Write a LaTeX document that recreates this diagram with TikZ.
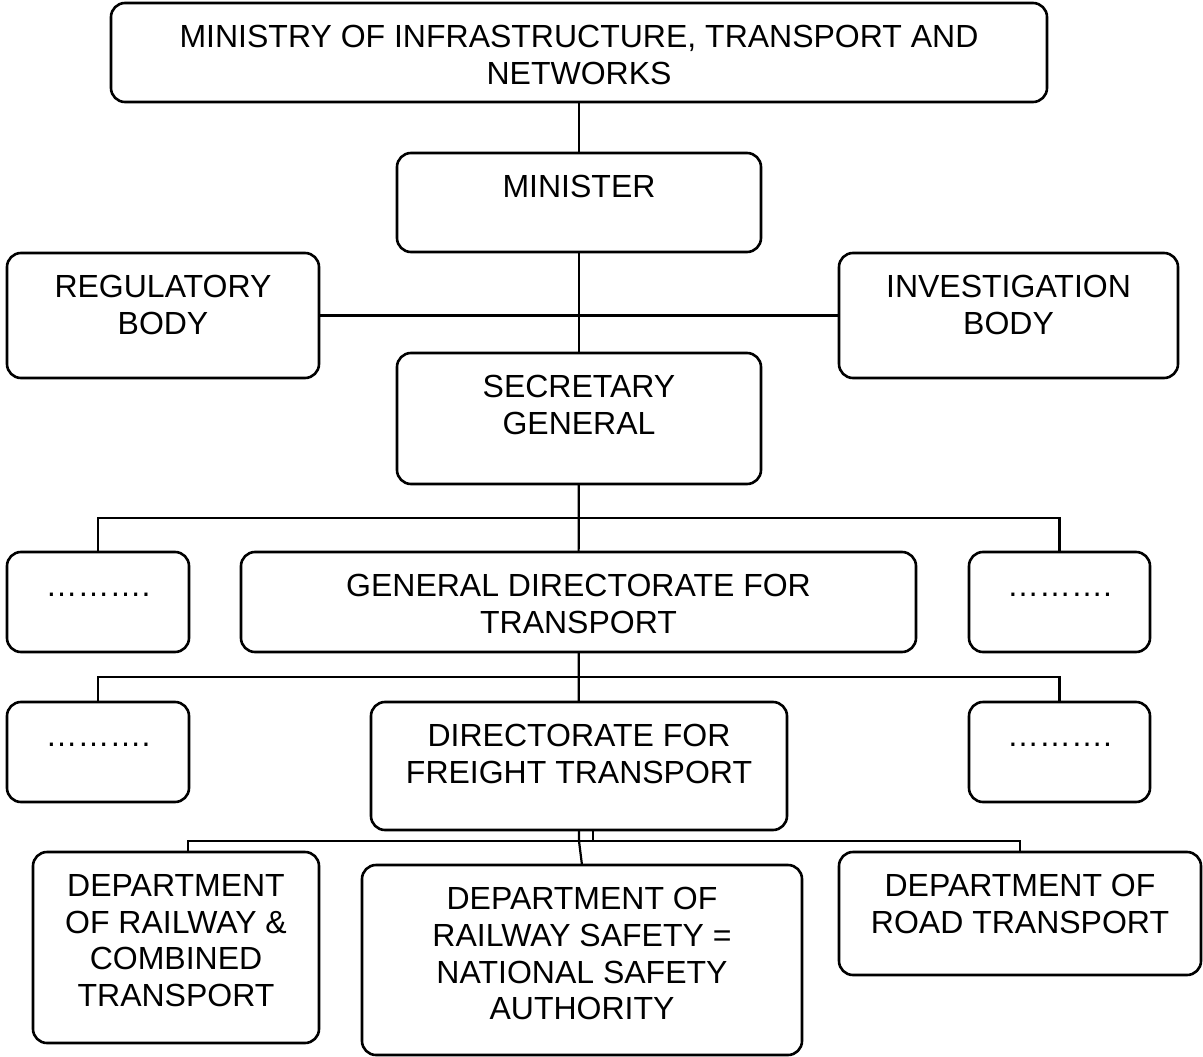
\documentclass[tikz,border=0pt]{standalone}
\usepackage{fontspec}
\setmainfont{Liberation Sans}

\begin{document}
\begin{tikzpicture}[
    x=1pt, y=-1pt,
    orgbox/.style={draw, line width=2.6pt, rounded corners=14pt, anchor=north west, inner sep=0pt, outer sep=0pt},
    orgtext/.style={anchor=north, align=center, inner sep=0pt, yshift=-22pt, font=\fontsize{32}{36.8}\selectfont},
    link/.style={line width=2.2pt}
]
    \useasboundingbox (0,0) rectangle (1203,1057);

    % Ministry and minister
    \node[orgbox, minimum width=936pt, minimum height=99pt, label={[orgtext]north:MINISTRY OF INFRASTRUCTURE, TRANSPORT AND\\NETWORKS}] (ministry) at (111,3) {};
    \node[orgbox, minimum width=364pt, minimum height=99pt, label={[orgtext]north:MINISTER}] (minister) at (397,153) {};

    % Bodies beside the minister
    \node[orgbox, minimum width=312pt, minimum height=125pt, label={[orgtext]north:REGULATORY\\BODY}] (regulatory) at (7,253) {};
    \node[orgbox, minimum width=339pt, minimum height=125pt, label={[orgtext]north:INVESTIGATION\\BODY}] (investigation) at (839,253) {};
    \node[orgbox, minimum width=364pt, minimum height=131pt, label={[orgtext]north:SECRETARY\\GENERAL}] (secretary) at (397,353) {};

    % General directorates
    \node[orgbox, minimum width=182pt, minimum height=100pt, label={[orgtext]north:\vphantom{M}……….}] (dotsA) at (7,552) {};
    \node[orgbox, minimum width=675pt, minimum height=100pt, label={[orgtext]north:GENERAL DIRECTORATE FOR\\TRANSPORT}] (general) at (241,552) {};
    \node[orgbox, minimum width=181pt, minimum height=100pt, label={[orgtext]north:\vphantom{M}……….}] (dotsB) at (969,552) {};

    % Directorates
    \node[orgbox, minimum width=182pt, minimum height=100pt, label={[orgtext]north:\vphantom{M}……….}] (dotsC) at (7,702) {};
    \node[orgbox, minimum width=416pt, minimum height=128pt, label={[orgtext]north:DIRECTORATE FOR\\FREIGHT TRANSPORT}] (freight) at (371,702) {};
    \node[orgbox, minimum width=181pt, minimum height=100pt, label={[orgtext]north:\vphantom{M}……….}] (dotsD) at (969,702) {};

    % Departments
    \node[orgbox, minimum width=286pt, minimum height=191pt, label={[orgtext]north:DEPARTMENT\\OF RAILWAY \&\\COMBINED\\TRANSPORT}] (railcomb) at (33,852) {};
    \node[orgbox, minimum width=440pt, minimum height=190pt, label={[orgtext]north:DEPARTMENT OF\\RAILWAY SAFETY =\\NATIONAL SAFETY\\AUTHORITY}] (safety) at (362,865) {};
    \node[orgbox, minimum width=362pt, minimum height=123pt, label={[orgtext]north:DEPARTMENT OF\\ROAD TRANSPORT}] (road) at (839,852) {};

    % Bus points
    \coordinate (bus1) at (579,518);
    \coordinate (bus2) at (579,677);
    \coordinate (bus3) at (593,841);

    % Links
    \draw[link] (ministry) -- (minister);
    \draw[link] (minister) -- (secretary);
    \draw[link] (regulatory) -- (investigation);
    \draw[link] (secretary) -- (general);
    \draw[link] (dotsA.north) |- (bus1) -| (dotsB.north);
    \draw[link] (general) -- (freight);
    \draw[link] (dotsC.north) |- (bus2) -| (dotsD.north);
    \draw[link] ([xshift=12pt]railcomb.north) |- (bus3) -| (road.north);
    \draw[link] (bus3) -- (bus3 |- freight.south);
    \draw[link] (freight.south) -- ++(0,11) -- (safety.north);

\end{tikzpicture}
\end{document}
